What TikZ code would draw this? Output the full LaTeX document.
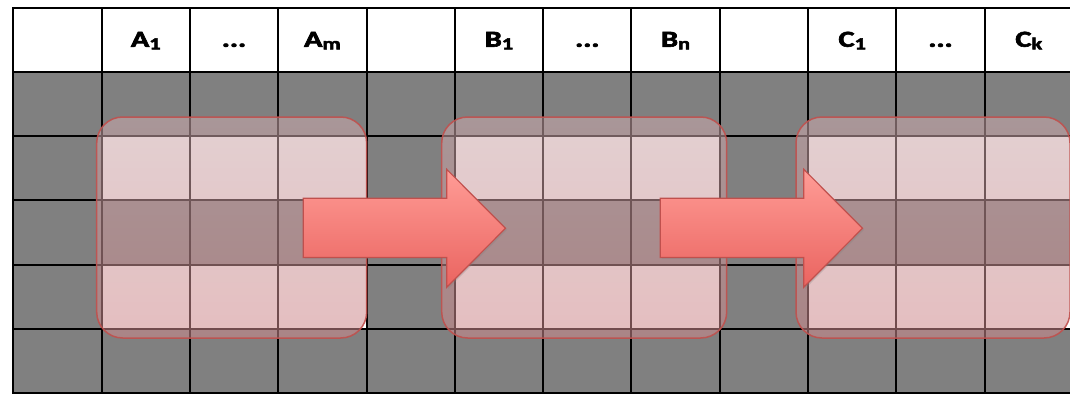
\documentclass[tikz,border=0pt]{standalone}
\usepackage{fontspec}
\setmainfont{Carlito}[BoldFeatures={FakeBold=2.5}]
\usetikzlibrary{shadows}

\definecolor{cellgray}{RGB}{128,128,128}
\definecolor{boxred}{RGB}{192,80,77}
\definecolor{boxtop}{RGB}{204,170,173}
\definecolor{boxbot}{RGB}{206,137,140}
\definecolor{arrtop}{RGB}{255,156,150}
\definecolor{arrbot}{RGB}{234,100,96}

% lowered index as in the header cells
\newcommand{\lowidx}[1]{\raisebox{-2.6pt}{\fontsize{17}{19}\selectfont #1}}

\begin{document}
\begin{tikzpicture}[
  x=1pt, y=-1pt,
  gridline/.style={line width=2pt, black},
  head/.style={anchor=base, inner sep=0pt, transform shape, xscale=1.32,
    font=\bfseries\fontsize{23}{27}\selectfont},
  frame/.style={rounded corners=26pt, draw=boxred, line width=1.5pt,
    top color=boxtop, bottom color=boxbot, fill opacity=0.55, draw opacity=0.9},
  pointer/.style={draw=boxred, line width=1.2pt, top color=arrtop, bottom color=arrbot,
    drop shadow={opacity=0.3, shadow xshift=1.5pt, shadow yshift=-1.5pt}}
]
\useasboundingbox (0,0) rectangle (1070,394);
\clip (0,0) rectangle (1070,394);
\fill[white] (0,0) rectangle (1070,394);

% table body
\fill[cellgray] (13.3,71.8) rectangle (1080,393.3);
\foreach \c in {1,5,9}
  \foreach \r in {2,4}
    \fill[white] (13.3+88.3*\c,7.5+64.3*\r) rectangle +(3*88.3,64.3);
\foreach \c in {0,...,12}
  \draw[gridline] (13.3+88.3*\c,7.5) -- (13.3+88.3*\c,393.3);
\foreach \r in {0,...,6}
  \draw[gridline] (12.3,7.5+64.3*\r) -- (1080,7.5+64.3*\r);

% header labels
\node[head] (a1) at (145.8,46.8) {A\lowidx{1}};
\node[head] (ad) at (234.0,46.8) {...};
\node[head] (am) at (322.4,46.8) {A\lowidx{m}};
\node[head] (b1) at (499.0,46.8) {B\lowidx{1}};
\node[head] (bd) at (587.3,46.8) {...};
\node[head] (bn) at (675.6,46.8) {B\lowidx{n}};
\node[head] (c1) at (852.2,46.8) {C\lowidx{1}};
\node[head] (cd) at (940.5,46.8) {...};
\node[head] (ck) at (1028.8,46.8) {C\lowidx{k}};

% highlighted groups
\draw[frame] (96.7,117) rectangle (366.7,338);
\draw[frame] (441.7,117) rectangle (726.7,338);
\draw[frame] (796,117) rectangle (1070,338);

% arrows between groups
\foreach \dx in {0,357}
  \draw[pointer, shift={(\dx,0)}] (303.3,198.3) -- (446.7,198.3) -- (446.7,169.3)
    -- (505.5,228.3) -- (446.7,287.3) -- (446.7,257.5) -- (303.3,257.5) -- cycle;
\end{tikzpicture}
\end{document}
